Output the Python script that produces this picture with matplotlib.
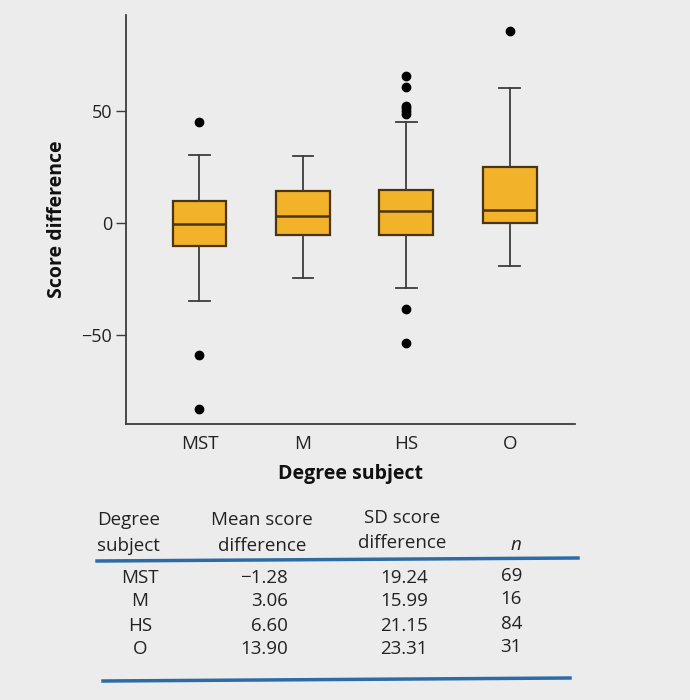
import matplotlib
matplotlib.use('Agg')
import matplotlib.pyplot as plt
from matplotlib.lines import Line2D

plt.rcParams['font.family'] = ['Open Sans', 'DejaVu Sans']

# Datos
subjects = ['MST', 'M', 'HS', 'O']
medians = [-0.4, 3.0, 5.2, 5.5]
q1 = [-10.5, -5.5, -5.4, 0.0]
q3 = [9.7, 14.3, 14.6, 24.8]
whislo = [-35.1, -24.8, -29.3, -19.4]
whishi = [30.3, 29.8, 44.9, 60.1]
outliers = [[45.2, -59.0, -83.3], [], [65.7, 60.5, 52.3, 51.2, 50.0, 48.8, -38.4, -53.5], [85.5]]

mean_diff = ['\u22121.28', '3.06', '6.60', '13.90']
sd_diff = ['19.24', '15.99', '21.15', '23.31']
n_vals = ['69', '16', '84', '31']

BOX = '#F2B32A'
EDGE = '#4a3510'
GREY = '#3c3c3c'
BLUE = '#2b6ca8'
BG = '#ececec'

fig = plt.figure(figsize=(6.9, 7.0), dpi=100, facecolor=BG)
ax = fig.add_axes([126 / 690, 0.394, (575 - 126) / 690, 0.585])
ax.set_facecolor(BG)

stats = []
for i, s in enumerate(subjects):
    stats.append(dict(label=s, med=medians[i], q1=q1[i], q3=q3[i],
                      whislo=whislo[i], whishi=whishi[i], fliers=outliers[i]))

ax.bxp(stats, positions=[1, 2, 3, 4], widths=0.52, patch_artist=True,
       boxprops=dict(facecolor=BOX, edgecolor=EDGE, linewidth=1.6),
       medianprops=dict(color=EDGE, linewidth=1.8),
       whiskerprops=dict(color=GREY, linewidth=1.3),
       capprops=dict(color=GREY, linewidth=1.3),
       capwidths=0.2,
       flierprops=dict(marker='o', markerfacecolor='black', markeredgecolor='black',
                       markersize=6, linestyle='none'))

ax.set_xlim(0.29, 4.63)
ax.set_ylim(-90, 93)
ax.set_yticks([-50, 0, 50])
ax.set_yticklabels(['\u221250', '0', '50'])
ax.tick_params(axis='y', length=7, width=1, color=GREY, labelsize=13, labelcolor='#222', pad=3)
ax.tick_params(axis='x', length=0, labelsize=13.5, labelcolor='#222', pad=8)
for side in ['top', 'right']:
    ax.spines[side].set_visible(False)
for side in ['left', 'bottom']:
    ax.spines[side].set_color(GREY)
    ax.spines[side].set_linewidth(1.3)

ax.set_ylabel('Score difference', fontsize=14, fontweight='bold', labelpad=10, color='#111')
ax.set_xlabel('Degree subject', fontsize=14, fontweight='bold', labelpad=8, color='#111')

# Tabla
def fy(py):
    return 1 - py / 700

def fx(px):
    return px / 690

tc = '#222'
fs = 13.5
fig.text(fx(97), fy(520), 'Degree', fontsize=fs, color=tc, ha='left', va='center')
fig.text(fx(97), fy(546), 'subject', fontsize=fs, color=tc, ha='left', va='center')
fig.text(fx(262), fy(520), 'Mean score', fontsize=fs, color=tc, ha='center', va='center')
fig.text(fx(262), fy(546), 'difference', fontsize=fs, color=tc, ha='center', va='center')
fig.text(fx(402), fy(518), 'SD score', fontsize=fs, color=tc, ha='center', va='center')
fig.text(fx(402), fy(543), 'difference', fontsize=fs, color=tc, ha='center', va='center')
fig.text(fx(521), fy(545), 'n', fontsize=fs, color=tc, ha='right', va='center', style='italic')

fig.add_artist(Line2D([fx(97), fx(578)], [fy(561), fy(558)], color=BLUE, linewidth=2.5))
fig.add_artist(Line2D([fx(103), fx(570)], [fy(681), fy(678)], color=BLUE, linewidth=2.5))

row_y = [578, 602, 627, 651]
for i, s in enumerate(subjects):
    y = fy(row_y[i] - i * 0.5)
    fig.text(fx(140), y, s, fontsize=fs, color=tc, ha='center', va='center')
    fig.text(fx(288), y, mean_diff[i], fontsize=fs, color=tc, ha='right', va='center')
    fig.text(fx(428), y, sd_diff[i], fontsize=fs, color=tc, ha='right', va='center')
    fig.text(fx(522), fy(row_y[i] - 2 - i * 0.5), n_vals[i], fontsize=fs, color=tc, ha='right', va='center')

fig.savefig('out.png', dpi=100, facecolor=BG)
